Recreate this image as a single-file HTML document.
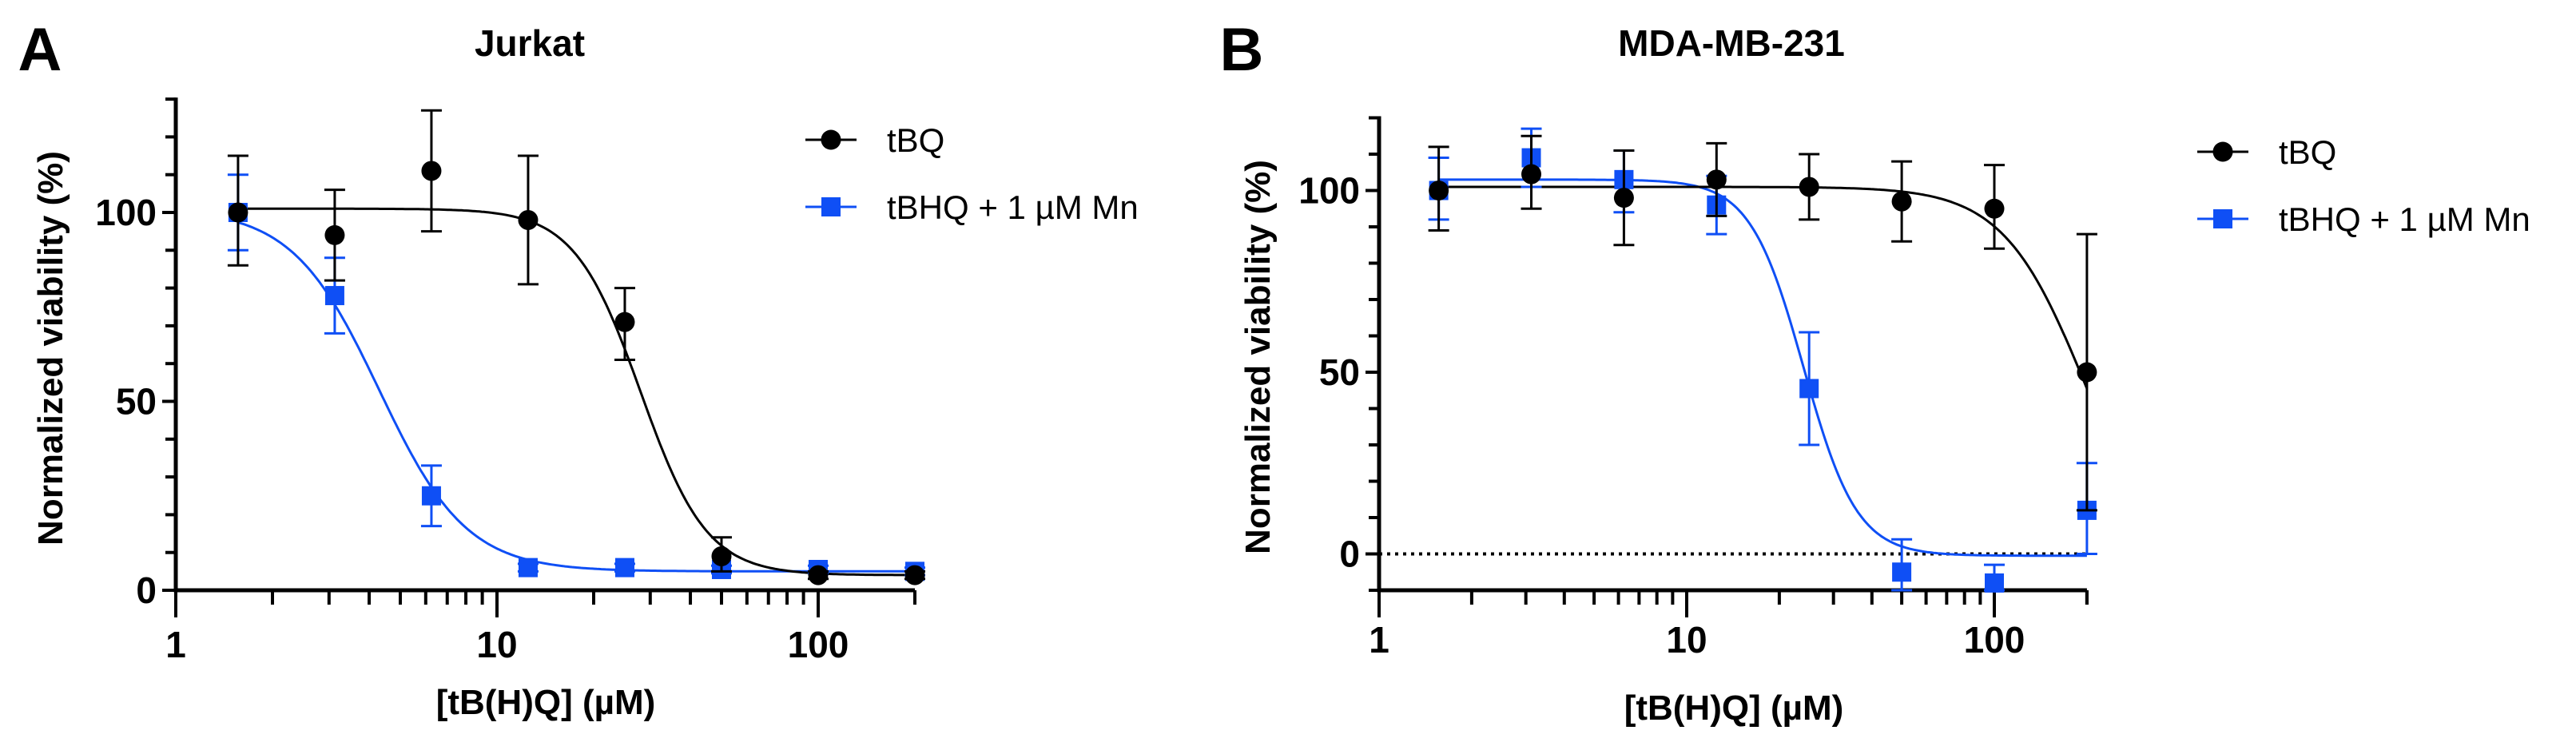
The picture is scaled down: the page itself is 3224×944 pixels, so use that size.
<!DOCTYPE html>
<html><head><meta charset="utf-8">
<style>
html,body{margin:0;padding:0;background:#fff;}
svg{display:block;font-family:"Liberation Sans",Arial,sans-serif;}
</style></head>
<body>
<svg id="fig" width="3224" height="944" viewBox="0 0 3224 944">
<text x="50" y="88" font-size="76" font-weight="bold" text-anchor="middle">A</text>
<text x="1554" y="88" font-size="76" font-weight="bold" text-anchor="middle">B</text>
<text x="663" y="70" font-size="46" font-weight="bold" text-anchor="middle">Jurkat</text>
<text x="2167" y="70" font-size="46" font-weight="bold" text-anchor="middle">MDA-MB-231</text>
<text transform="translate(78,436) rotate(-90)" font-size="44" font-weight="bold" text-anchor="middle">Normalized viability (%)</text>
<text transform="translate(1589,447) rotate(-90)" font-size="44" font-weight="bold" text-anchor="middle">Normalized viability (%)</text>
<text x="683" y="894" font-size="44" font-weight="bold" text-anchor="middle">[tB(H)Q] (µM)</text>
<text x="2170" y="901" font-size="44" font-weight="bold" text-anchor="middle">[tB(H)Q] (µM)</text>
<g id="pa"></g>
<g id="pb"></g>
</svg>
<script>
const conc = [1.5625, 3.125, 6.25, 12.5, 25, 50, 100, 200];
// Panel A (Jurkat)
const aBQ = [100, 94, 111, 98, 71, 9, 4, 4];
const aBQlo = [86, 82, 95, 81, 61, 5, 3, 3];
const aBQhi = [115, 106, 127, 115, 80, 14, 5, 5];
const aMn = [100, 78, 25, 6, 6, 5.5, 5.5, 5];
const aMnlo = [90, 68, 17, 5, 5, 4.5, 4.5, 4];
const aMnhi = [110, 88, 33, 7, 7, 6.5, 6.5, 6];
const aFitBQ = [101, 4, 28, 4.2];   // top, bottom, IC50, hill
const aFitMn = [101, 5, 4.3, 3.2];
const aYTicks = [0, 50, 100];
// Panel B (MDA-MB-231)
const bBQ = [100, 104.5, 98, 103, 101, 97, 95, 50];
const bBQlo = [89, 95, 85, 93, 92, 86, 84, 12];
const bBQhi = [112, 115, 111, 113, 110, 108, 107, 88];
const bMn = [100, 109, 103, 96, 45.5, -5, -8, 12];
const bMnlo = [92, 101, 94, 88, 30, -10, -10, 0];
const bMnhi = [109, 117, 111, 104, 61, 4, -3, 25];
const bFitBQ = [101, -10, 200, 3.2];
const bFitMn = [103, -0.5, 24, 5];
const bYTicks = [0, 50, 100];
const xTickLabels = ["1", "10", "100"];
const xTickVals = [1, 10, 100];

const NS = "http://www.w3.org/2000/svg";
function mk(parent, tag, attrs) {
  const e = document.createElementNS(NS, tag);
  for (const k in attrs) e.setAttribute(k, attrs[k]);
  parent.appendChild(e);
  return e;
}
const BLUE = "#0f4ff5";

function panel(g, cfg) {
  const sx = v => cfg.x0 + Math.log10(v) * cfg.dec;
  const sy = v => cfg.y0 - (v - cfg.ymin) * cfg.ppu;
  const xEnd = sx(200);
  const yBase = sy(cfg.ymin);
  // y axis
  let e = mk(g, "line", {x1: cfg.x0, y1: sy(cfg.ymax) - 2, x2: cfg.x0, y2: yBase + 2.5, stroke: "#000", "stroke-width": 5});
  
  
  for (let v = cfg.ymin; v <= cfg.ymax + 0.01; v += 10) {
    const t = mk(g, "line", {x1: cfg.x0 - (v % 50 === 0 ? 17 : 13), y1: sy(v), x2: cfg.x0, y2: sy(v), stroke: "#000", "stroke-width": 4});
    
    
  }
  cfg.yTicks.forEach(v => {
    const t = mk(g, "text", {x: cfg.x0 - 24, y: sy(v) + 16, "font-size": 46, "font-weight": "bold", "text-anchor": "end"});
    t.textContent = String(v);
    
    
  });
  // x axis
  e = mk(g, "line", {x1: cfg.x0 - 2.5, y1: yBase, x2: xEnd, y2: yBase, stroke: "#000", "stroke-width": 5});
  
  
  for (let d = 1; d <= 100; d *= 10) {
    for (let m = 1; m <= 9; m++) {
      const v = d * m;
      if (v > 200) break;
      const major = (m === 1);
      const t = mk(g, "line", {x1: sx(v), y1: yBase, x2: sx(v), y2: yBase + (major ? 34 : 18), stroke: "#000", "stroke-width": 4});
      
      
    }
  }
  e = mk(g, "line", {x1: xEnd, y1: yBase, x2: xEnd, y2: yBase + 18, stroke: "#000", "stroke-width": 4});
  
  
  xTickVals.forEach((v, i) => {
    const t = mk(g, "text", {x: sx(v), y: cfg.xLabY, "font-size": 46, "font-weight": "bold", "text-anchor": "middle"});
    t.textContent = xTickLabels[i];
    
    
  });
  if (cfg.zeroLine) {
    const z = mk(g, "line", {x1: cfg.x0, y1: sy(0), x2: xEnd, y2: sy(0), stroke: "#000", "stroke-width": 4, "stroke-dasharray": "4 6"});
    
    
  }
  function curve(fit, color, name) {
    let d = "";
    for (let i = 0; i <= 300; i++) {
      const lx = Math.log10(conc[0]) + (Math.log10(200) - Math.log10(conc[0])) * i / 300;
      const x = Math.pow(10, lx);
      const y = fit[1] + (fit[0] - fit[1]) / (1 + Math.pow(x / fit[2], fit[3]));
      d += (i ? "L" : "M") + sx(x).toFixed(1) + "," + sy(y).toFixed(1);
    }
    const p = mk(g, "path", {d: d, fill: "none", stroke: color, "stroke-width": 3});
    
    
  }
  function series(vals, lo, hi, color, shape, name) {
    vals.forEach((v, i) => {
      const x = sx(conc[i]);
      const eb = mk(g, "path", {d: `M${x},${sy(lo[i])}V${sy(hi[i])}M${x-13},${sy(lo[i])}H${x+13}M${x-13},${sy(hi[i])}H${x+13}`, stroke: color, "stroke-width": 3, fill: "none"});
      
      
      let m;
      if (shape === "circle") m = mk(g, "circle", {cx: x, cy: sy(v), r: 12.5, fill: color});
      else m = mk(g, "rect", {x: x - 12, y: sy(v) - 12, width: 24, height: 24, fill: color});
      
      
    });
  }
  curve(cfg.fitMn, BLUE, "tbhq-mn-fit-curve");
  curve(cfg.fitBQ, "#000", "tbq-fit-curve");
  series(cfg.mn, cfg.mnlo, cfg.mnhi, BLUE, "square", "tbhq-mn");
  series(cfg.bq, cfg.bqlo, cfg.bqhi, "#000", "circle", "tbq");
  // legend
  const L = cfg.leg;
  const items = [["tBQ", "#000", "circle"], ["tBHQ + 1 µM Mn", BLUE, "square"]];
  items.forEach((it, i) => {
    const y = L.y + i * 84;
    const lg = mk(g, "g", {});
    
    
    mk(lg, "line", {x1: L.x - 32, y1: y, x2: L.x + 32, y2: y, stroke: it[1], "stroke-width": 3});
    if (it[2] === "circle") mk(lg, "circle", {cx: L.x, cy: y, r: 12.5, fill: it[1]});
    else mk(lg, "rect", {x: L.x - 12, y: y - 12, width: 24, height: 24, fill: it[1]});
    const t = mk(lg, "text", {x: L.x + 70, y: y + 15, "font-size": 42});
    t.textContent = it[0];
  });
}
panel(document.getElementById("pa"), {x0: 220, dec: 402, y0: 739, ymin: 0, ymax: 130, ppu: 4.73, yTicks: aYTicks, xLabY: 823,
  bq: aBQ, bqlo: aBQlo, bqhi: aBQhi, mn: aMn, mnlo: aMnlo, mnhi: aMnhi, fitBQ: aFitBQ, fitMn: aFitMn, zeroLine: false, leg: {x: 1040, y: 175}});
panel(document.getElementById("pb"), {x0: 1726, dec: 385, y0: 739, ymin: -10, ymax: 120, ppu: 4.55, yTicks: bYTicks, xLabY: 817,
  bq: bBQ, bqlo: bBQlo, bqhi: bBQhi, mn: bMn, mnlo: bMnlo, mnhi: bMnhi, fitBQ: bFitBQ, fitMn: bFitMn, zeroLine: true, leg: {x: 2782, y: 190}});
</script>
</body></html>
